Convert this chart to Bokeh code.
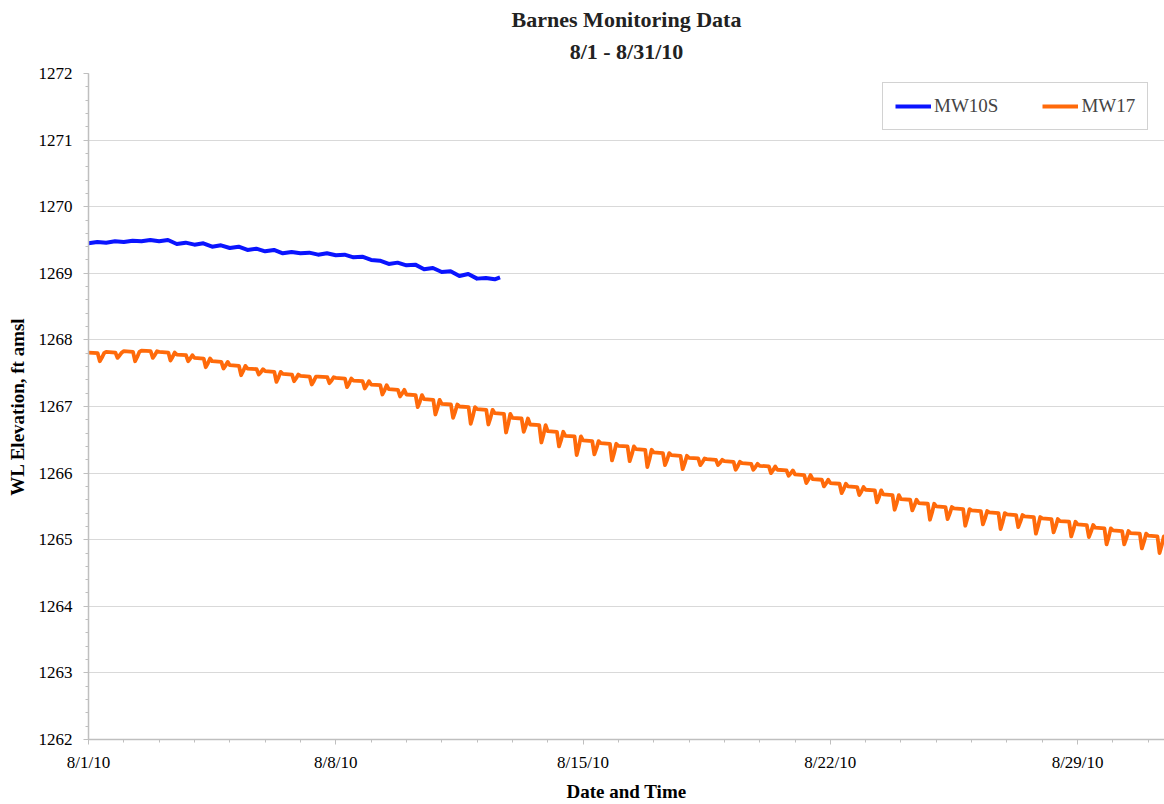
from bokeh.plotting import figure
from bokeh.models import Range1d, FixedTicker, Title, Legend, LegendItem
from bokeh.embed import file_html
from bokeh.resources import INLINE

# ---------------- data ----------------
title_main = "Barnes Monitoring Data"
title_sub = "8/1 - 8/31/10"
x_label = "Date and Time"
y_label = "WL Elevation, ft amsl"

# x is days since 8/1/10 00:00
x_tick_days = [0, 7, 14, 21, 28]
x_tick_labels = ["8/1/10", "8/8/10", "8/15/10", "8/22/10", "8/29/10"]
y_ticks = [1262, 1263, 1264, 1265, 1266, 1267, 1268, 1269, 1270, 1271, 1272]

# MW10S, sampled every quarter day from 8/1 00:00
mw10s_days = [0.0, 0.25, 0.5, 0.75, 1.0, 1.25, 1.5, 1.75, 2.0, 2.25, 2.5, 2.75,
              3.0, 3.25, 3.5, 3.75, 4.0, 4.25, 4.5, 4.75, 5.0, 5.25, 5.5, 5.75,
              6.0, 6.25, 6.5, 6.75, 7.0, 7.25, 7.5, 7.75, 8.0, 8.25, 8.5, 8.75,
              9.0, 9.25, 9.5, 9.75, 10.0, 10.25, 10.5, 10.75, 11.0, 11.25, 11.5, 11.65]
mw10s_wl = [1269.45, 1269.47, 1269.46, 1269.48, 1269.47, 1269.49, 1269.48, 1269.50,
            1269.48, 1269.50, 1269.44, 1269.46, 1269.43, 1269.45, 1269.40, 1269.42,
            1269.38, 1269.40, 1269.35, 1269.37, 1269.33, 1269.35, 1269.30, 1269.32,
            1269.30, 1269.31, 1269.28, 1269.30, 1269.27, 1269.28, 1269.24, 1269.25,
            1269.20, 1269.19, 1269.14, 1269.16, 1269.12, 1269.13, 1269.06, 1269.08,
            1269.02, 1269.03, 1268.96, 1268.99, 1268.92, 1268.93, 1268.91, 1268.94]

# MW17: level at the start of each half day, and depth of the sharp dip in it
mw17_days = [i * 0.5 for i in range(61)]
mw17_base = [1267.80, 1267.81, 1267.82, 1267.83, 1267.81, 1267.77, 1267.72, 1267.67,
             1267.61, 1267.56, 1267.52, 1267.48, 1267.45, 1267.44, 1267.42, 1267.38,
             1267.32, 1267.25, 1267.17, 1267.10, 1267.03, 1266.99, 1266.95, 1266.89,
             1266.82, 1266.72, 1266.62, 1266.55, 1266.48, 1266.44, 1266.40, 1266.35,
             1266.30, 1266.26, 1266.22, 1266.20, 1266.17, 1266.14, 1266.10, 1266.04,
             1265.97, 1265.90, 1265.84, 1265.79, 1265.74, 1265.67, 1265.60, 1265.54,
             1265.49, 1265.46, 1265.43, 1265.40, 1265.37, 1265.34, 1265.31, 1265.27,
             1265.22, 1265.17, 1265.13, 1265.09, 1265.05]
mw17_dip = [0.12, 0.08, 0.14, 0.10, 0.12, 0.09, 0.13, 0.10, 0.14, 0.08, 0.15, 0.10,
            0.12, 0.09, 0.13, 0.11, 0.14, 0.10,
            0.18, 0.22, 0.20, 0.25, 0.22, 0.28, 0.20, 0.26, 0.22, 0.28, 0.20, 0.25,
            0.22, 0.26, 0.18, 0.20,
            0.10, 0.08, 0.12, 0.09, 0.10, 0.08, 0.12, 0.10, 0.14, 0.12,
            0.18, 0.22, 0.16, 0.24, 0.18, 0.25, 0.20, 0.24, 0.18, 0.25, 0.20, 0.22,
            0.18, 0.24, 0.20, 0.22, 0.25]
mw17_end_day = 30.5
mw17_end_wl = 1264.95

# ---------------- build MW17 trace (flat top with a sharp drawdown each half day) ----
xs17, ys17 = [], []
for d, b, dp in zip(mw17_days, mw17_base, mw17_dip):
    xs17 += [d, d + 0.26, d + 0.32, d + 0.38, d + 0.44]
    ys17 += [b + 0.01, b, b - dp, b - dp * 0.55, b]
xs17.append(mw17_end_day)
ys17.append(mw17_end_wl)

SERIF = "Liberation Serif"
BLUE = "#0a14ff"
ORANGE = "#ff6a0a"
GRID = "#d9d9d9"
AXIS = "#bfbfbf"

p = figure(width=1164, height=804,
           x_range=Range1d(0, 30.46), y_range=Range1d(1262, 1272),
           output_backend="svg", toolbar_location=None,
           min_border_left=88, min_border_right=0,
           min_border_top=73, min_border_bottom=64)
p.outline_line_color = None
p.background_fill_color = "white"
p.border_fill_color = "white"

# titles (the one added later sits closer to the plot)
p.title.text = title_main
p.title.align = "center"
p.title.text_font = SERIF
p.title.text_font_style = "bold"
p.title.text_font_size = "22px"
p.title.text_color = "#222222"
p.title.text_line_height = 1.0
p.title.standoff = 0
p.add_layout(Title(text=title_sub, align="center", text_font=SERIF,
                   text_font_style="bold", text_font_size="22px", text_color="#222222",
                   text_line_height=1.0, vertical_align="top", standoff=15), "above")

# lines
r1 = p.line(mw10s_days, mw10s_wl, line_color=BLUE, line_width=4, line_join="round")
r2 = p.line(xs17, ys17, line_color=ORANGE, line_width=3.8, line_join="round")

# axes
xa = p.xaxis[0]
xa.ticker = FixedTicker(ticks=x_tick_days, minor_ticks=list(range(0, 31)))
xa.major_label_overrides = {d: l for d, l in zip(x_tick_days, x_tick_labels)}
ya = p.yaxis[0]
ya.ticker = FixedTicker(ticks=y_ticks,
                        minor_ticks=[1262 + 0.2 * k for k in range(51)])
for ax in (xa, ya):
    ax.axis_line_color = AXIS
    ax.axis_line_width = 1.5
    ax.major_tick_line_color = AXIS
    ax.minor_tick_line_color = AXIS
    ax.major_tick_in = 0
    ax.major_tick_out = 5
    ax.minor_tick_in = 0
    ax.minor_tick_out = 3
    ax.major_label_text_font = SERIF
    ax.major_label_text_font_size = "17px"
    ax.major_label_text_color = "black"
    ax.axis_label_text_font = SERIF
    ax.axis_label_text_font_style = "bold"
    ax.axis_label_text_font_size = "19px"
    ax.axis_label_text_color = "black"
xa.axis_label = x_label
ya.axis_label = y_label
xa.major_label_standoff = 8
xa.axis_label_standoff = 6
ya.major_label_standoff = 11
ya.axis_label_standoff = 8

p.xgrid.grid_line_color = None
p.ygrid.grid_line_color = GRID
p.ygrid.grid_line_width = 1.2

legend = Legend(items=[LegendItem(label="MW10S", renderers=[r1]),
                       LegendItem(label="MW17", renderers=[r2])],
                orientation="horizontal", location=(794, 609),
                label_text_font=SERIF, label_text_font_size="19px",
                glyph_width=36, glyph_height=18, label_standoff=3,
                spacing=44, padding=12, margin=0,
                border_line_color="#a6a6a6", border_line_width=1,
                background_fill_color="white", background_fill_alpha=1)
p.add_layout(legend)

open("out.html", "w").write(file_html(p, INLINE))
